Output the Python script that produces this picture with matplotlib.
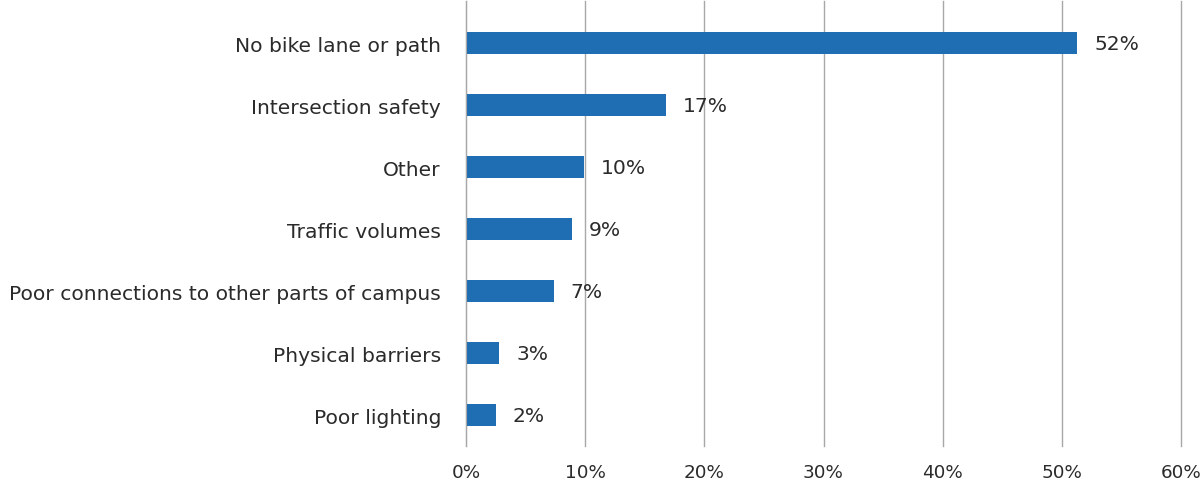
import matplotlib
matplotlib.use("Agg")
import matplotlib.pyplot as plt
from matplotlib.ticker import FuncFormatter

categories = ["No bike lane or path", "Intersection safety", "Other", "Traffic volumes",
              "Poor connections to other parts of campus", "Physical barriers", "Poor lighting"]
values = [51.3, 16.8, 9.9, 8.9, 7.4, 2.8, 2.5]
labels = ["52%", "17%", "10%", "9%", "7%", "3%", "2%"]
xticks = [0, 10, 20, 30, 40, 50, 60]

plt.rcParams['font.family'] = ['DejaVu Sans']
FS = 14.6
TXT = "#2b2b2b"
fig = plt.figure(figsize=(12.01, 4.89), dpi=100)
ax = fig.add_axes([466/1201, 1 - 447/489, (1181-466)/1201, 445/489])

y = list(range(len(categories)))
ax.barh(y, values, height=0.36, color="#1f6db3", zorder=3)
for yi, v, lab in zip(y, values, labels):
    ax.text(v + 1.4, yi, lab, va="center", ha="left", fontsize=FS, color=TXT)

ax.set_ylim(len(categories) - 0.5, -0.68)
ax.set_xlim(0, 60)
ax.set_yticks(y)
ax.set_yticklabels(categories, fontsize=FS, color=TXT)
ax.set_xticks(xticks)
ax.xaxis.set_major_formatter(FuncFormatter(lambda v, p: f"{int(v)}%"))
ax.tick_params(axis="x", labelsize=13.2, colors=TXT, length=0, pad=12)
ax.tick_params(axis="y", length=0, pad=18)
ax.grid(axis="x", color="#a8a8a8", linewidth=1, zorder=0)
for line in ax.get_xgridlines():
    line.set_clip_on(False)
for s in ["top", "right", "bottom"]:
    ax.spines[s].set_visible(False)
ax.spines["left"].set_color("#a8a8a8")
ax.spines["left"].set_zorder(4)

fig.savefig("out.png", dpi=100)
